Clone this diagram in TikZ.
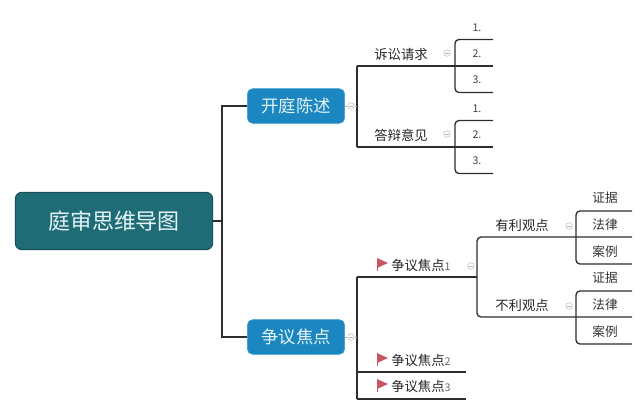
\documentclass[tikz,border=0pt]{standalone}
\usepackage{fontspec}
\setmainfont{Noto Sans CJK SC}
\usepackage{tikz}
\definecolor{rootfill}{RGB}{31,108,118}
\definecolor{rootline}{RGB}{22,80,90}
\definecolor{topicfill}{RGB}{27,134,191}
\definecolor{topicline}{RGB}{58,158,208}
\definecolor{toptext}{RGB}{228,244,247}
\definecolor{branchline}{RGB}{45,45,45}
\definecolor{flagred}{RGB}{200,86,96}

\begin{document}
\begin{tikzpicture}[x=0.75pt,y=0.75pt,yscale=-1,xscale=1,
  rootbox/.style={draw=rootline,fill=rootfill,rounded corners=5pt,line width=0.8pt,minimum width=148pt,minimum height=43pt,text=toptext,font=\fontsize{16.5}{18}\selectfont},
  topicbox/.style={draw=topicline,fill=topicfill,rounded corners=4pt,minimum width=73pt,minimum height=26pt,text=toptext,font=\fontsize{13}{15}\selectfont},
  subtext/.style={inner sep=0.75pt,text=black!85,font=\fontsize{10}{12}\selectfont},
  leaftext/.style={inner sep=0.75pt,text=black!80,font=\fontsize{9.5}{11}\selectfont},
  numtext/.style={inner sep=0.75pt,text=black!75,font=\fontsize{8}{10}\selectfont},
  branch/.style={draw=branchline,line width=1pt},
  bracket/.style={branch,rounded corners=3pt},
  foldline/.style={draw=black!30,line width=0.6pt},
  fold/.style={circle,draw=black!25,fill=white,inner sep=0pt,minimum size=5pt,
    path picture={\draw[black!30,line width=0.4pt] ([xshift=-1.5pt]path picture bounding box.center) -- ([xshift=1.5pt]path picture bounding box.center);}},
]
\useasboundingbox (0,0) rectangle (640,414);

% Root
\node[rootbox] (root) at (114,221) {庭审思维导图};
% Main topics
\node[topicbox] (kt) at (296,106) {开庭陈述};
\node[topicbox] (zy) at (296,337) {争议焦点};
\coordinate (trunk) at (222,221);
\draw[branch] (root.east) -- (trunk);
\draw[branch] (kt.west) -| (trunk) |- (zy.west);

% fold marks of main topics
\node[fold] (kt-f) at (351,106) {};
\node[fold] (zy-f) at (351,337) {};
\draw[foldline] (kt.east) -- (kt-f);
\draw[foldline] (zy.east) -- (zy-f);

%Top hub
\coordinate (ss-l) at (357,66);
\coordinate (db-l) at (357,147);
\draw[branch] (ss-l) -- (db-l);
\draw[foldline] (kt-f) -- (kt-f -| ss-l);

\foreach \g/\y/\t in {ss/66/诉讼请求,db/147/答辩意见}{
  \coordinate (\g-r) at (493,\y);
  \coordinate (\g-a) at (493,\y-26.5);
  \coordinate (\g-b) at (493,\y+26.5);
  \node[subtext] (\g) at (401,\y-12) {\t};
  \node[fold] (\g-f) at (447,\y-13) {};
  \draw[branch] (\g-l) -- (\g-r);
  \draw[bracket] (\g-a) -- ++(-38,0) |- (\g-b);
  \node[numtext] (\g-1) at (477,\y-38) {1.};
  \node[numtext] (\g-2) at (477,\y-12) {2.};
  \node[numtext] (\g-3) at (477,\y+14) {3.};
}

%Bottom hub
\coordinate (jd1-l) at (357,277);
\coordinate (jd3-l) at (357,399);
\draw[branch] (jd1-l) -- (jd3-l);
\draw[foldline] (zy-f) -- (zy-f -| jd1-l);
\coordinate (jd1-r) at (477,277);
\coordinate (jd2-r) at (466,372);
\coordinate (jd3-r) at (466,399);
\draw[branch] (jd1-l) -- (jd1-r);
\draw[branch] (jd2-r -| jd1-l) -- (jd2-r);
\draw[branch] (jd3-l) -- (jd3-r);

% flags
\foreach \i/\y in {1/265,2/360,3/386}{
  \fill[flagred] (377,\y-7) -- (388,\y-2) -- (377,\y+3) -- cycle;
  \draw[flagred,line width=0.8pt] (377.4,\y-7) -- (377.4,\y+6);
  \node[subtext,anchor=west] (jd\i) at (390,\y) {争议焦点{\fontsize{8}{9}\selectfont\color{black!60}\i}};
}
\node[fold] (jd1-f) at (471,266) {};

% points
\coordinate (yl-r) at (632,237);
\coordinate (bl-r) at (632,317);
\draw[bracket] (yl-r) -- (jd1-r |- yl-r) |- (bl-r);
\foreach \g/\y/\t in {yl/237/有利观点,bl/317/不利观点}{
  \node[subtext] (\g) at (522,\y-12) {\t};
  \node[fold] (\g-f) at (569,\y-11) {};
  \coordinate (\g-a) at (632,\y-26);
  \coordinate (\g-b) at (632,\y+27);
  \draw[bracket] (\g-a) -- ++(-56,0) |- (\g-b);
  \node[leaftext] (\g-1) at (605,\y-39) {证据};
  \node[leaftext] (\g-2) at (605,\y-12) {法律};
  \node[leaftext] (\g-3) at (605,\y+15) {案例};
}

\end{tikzpicture}
\end{document}
